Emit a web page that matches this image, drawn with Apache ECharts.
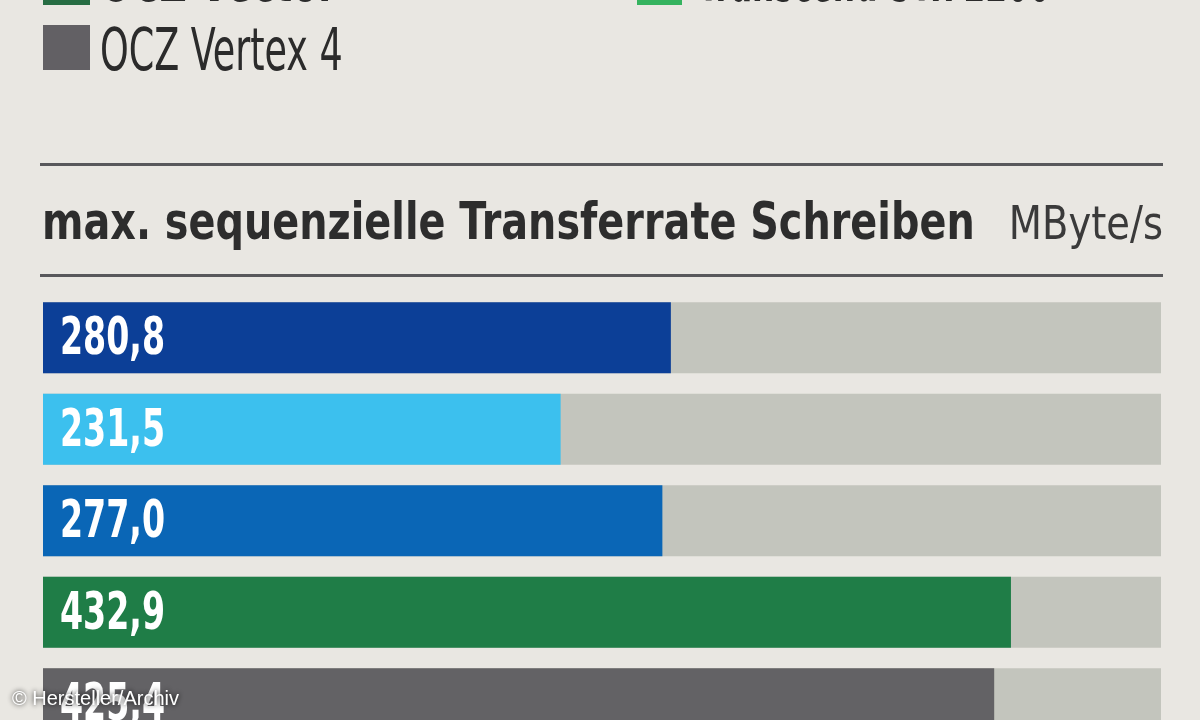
<!DOCTYPE html>
<html>
<head>
<meta charset="utf-8">
<script src="https://cdn.jsdelivr.net/npm/echarts@6/dist/echarts.min.js"></script>
<style>
html,body{margin:0;padding:0;background:#e9e7e2;overflow:hidden;}
#chart{width:1200px;height:750px;}
</style>
</head>
<body>
<div id="chart"></div>
<script>
// Data
const categories = ['Bar 1', 'Bar 2', 'Bar 3', 'Bar 4', 'OCZ Vertex 4'];
const values = [280.8, 231.5, 277.0, 432.9, 425.4];
const barColors = ['#0c3f97', '#3cc0ee', '#0a66b6', '#1f7d47', '#636265'];
const titleText = 'max. sequenzielle Transferrate Schreiben';
const unitText = 'MByte/s';
const legendItems = ['OCZ Vector', 'Transcend STx 2200', 'OCZ Vertex 4'];
const legendColors = ['#276d43', '#35b35f', '#626064'];

const cond = '"DejaVu Sans Condensed","Liberation Sans Narrow",sans-serif';

const chart = echarts.init(document.getElementById('chart'));
const fmt = v => v.toFixed(1).replace('.', ',');

chart.setOption({
  backgroundColor: '#e9e7e2',
  animation: false,
  grid: { left: 43, right: 39, top: 292, height: 457.5, containLabel: false },
  xAxis: { type: 'value', min: 0, max: 500, show: false, splitLine: { show: false } },
  yAxis: { type: 'category', data: categories, inverse: true, show: false },
  series: [{
    type: 'bar',
    barCategoryGap: '22.4%',
    data: values.map((v, i) => ({ value: v, itemStyle: { color: barColors[i] } })),
    showBackground: true,
    backgroundStyle: { color: '#c3c5bd' },
    label: { show: false }
  }, {
    type: 'custom',
    data: values.map((v, i) => [v, i]),
    encode: { x: 0, y: 1 },
    z: 5,
    renderItem: function (params, api) {
      const p = api.coord([0, api.value(1)]);
      return {
        type: 'text',
        x: p[0] + 17,
        y: p[1] + 3,
        scaleX: 0.71,
        style: {
          x: 0, y: 0,
          text: fmt(api.value(0)),
          font: 'bold 52px ' + cond,
          fill: '#ffffff',
          textVerticalAlign: 'middle'
        }
      };
    }
  }],
  graphic: [
    // legend rows (partly cut at top)
    { type: 'rect', shape: { x: 43, y: -40, width: 47, height: 45 }, style: { fill: legendColors[0] } },
    { type: 'text', x: 100, y: 15, scaleX: 0.72, style: { x: 0, y: 0, text: legendItems[0], font: 'bold 58px ' + cond, fill: '#2b2b2b', textVerticalAlign: 'bottom' } },
    { type: 'rect', shape: { x: 637, y: -40, width: 45, height: 45 }, style: { fill: legendColors[1] } },
    { type: 'text', x: 698, y: 15, scaleX: 0.6, style: { x: 0, y: 0, text: legendItems[1], font: 'bold 58px ' + cond, fill: '#2b2b2b', textVerticalAlign: 'bottom' } },
    { type: 'rect', shape: { x: 43, y: 25, width: 47, height: 45 }, style: { fill: legendColors[2] } },
    { type: 'text', x: 100, y: 84, scaleX: 0.70, style: { x: 0, y: 0, text: legendItems[2], font: '58px ' + cond, fill: '#2b2b2b', textVerticalAlign: 'bottom' } },
    // rules
    { type: 'rect', shape: { x: 40, y: 163, width: 1123, height: 3 }, style: { fill: '#58585b' } },
    { type: 'rect', shape: { x: 40, y: 274, width: 1123, height: 3 }, style: { fill: '#58585b' } },
    // title
    { type: 'text', x: 42, y: 251, scaleX: 0.85, style: { x: 0, y: 0, text: titleText, font: 'bold 52px ' + cond, fill: '#2d2d2d', textVerticalAlign: 'bottom' } },
    { type: 'text', x: 1163, y: 250, scaleX: 0.93, style: { x: 0, y: 0, text: unitText, font: '46px ' + cond, fill: '#3a3a3a', textAlign: 'right', textVerticalAlign: 'bottom' } },
    // watermark
    { type: 'text', z: 100, style: { x: 12, y: 709, text: '© Hersteller/Archiv', font: '20px "Liberation Sans",Arial,sans-serif', fill: '#ffffff', textVerticalAlign: 'bottom', textShadowColor: 'rgba(0,0,0,0.95)', textShadowBlur: 5 } }
  ]
});
</script>
</body>
</html>
